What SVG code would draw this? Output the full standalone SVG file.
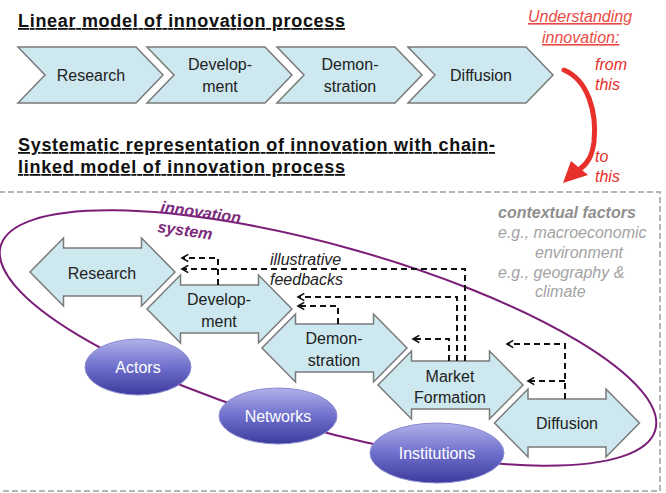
<svg xmlns="http://www.w3.org/2000/svg" width="666" height="493" viewBox="0 0 666 493">
<defs>
<style>
.title{font-family:"Liberation Sans",Arial,sans-serif;font-weight:bold;font-size:18px;fill:#111;text-decoration:underline}
.step{fill:#cde8ef;stroke:#7a7a7a;stroke-width:1.5}
.lbl{font-family:"Liberation Sans",Arial,sans-serif;font-size:16px;fill:#222;text-anchor:middle}
.red{font-family:"Liberation Sans",Arial,sans-serif;font-style:italic;font-size:16px;fill:#e8302a}
.ctx{font-family:"Liberation Sans",Arial,sans-serif;font-style:italic;font-size:16px;fill:#a3a3a3}
.fb{fill:none;stroke:#111;stroke-width:2;stroke-dasharray:6,4;marker-end:url(#oh)}
.oval{fill:url(#og);stroke:#8a8ad0;stroke-width:1}
.ovt{font-family:"Liberation Sans",Arial,sans-serif;font-size:16px;fill:#fff;text-anchor:middle}
.sys{font-family:"Liberation Sans",Arial,sans-serif;font-style:italic;font-weight:bold;font-size:16px;fill:#7b2a7b}
</style>
<linearGradient id="og" x1="0" y1="0" x2="0" y2="1">
<stop offset="0" stop-color="#b0b1ea"/>
<stop offset="0.5" stop-color="#6f70cc"/>
<stop offset="1" stop-color="#3a3b9c"/>
</linearGradient>
<marker id="oh" viewBox="0 0 10 10" refX="8" refY="5" markerWidth="9" markerHeight="9" markerUnits="userSpaceOnUse" orient="auto">
<path d="M1,1 L8,5 L1,9" fill="none" stroke="#111" stroke-width="1.8"/>
</marker>
</defs>
<rect width="666" height="493" fill="#fff"/>

<!-- titles -->
<text class="title" x="18" y="27" textLength="327" lengthAdjust="spacing">Linear model of innovation process</text>
<text class="title" x="18" y="151" textLength="477" lengthAdjust="spacing">Systematic representation of innovation with chain-</text>
<text class="title" x="18" y="173" textLength="327" lengthAdjust="spacing">linked model of innovation process</text>

<!-- linear model chevrons -->
<g id="lin-research"><path class="step" d="M18,47 H136 L163,75 L136,103 H18 L45,75 Z"/><text class="lbl" x="91" y="81">Research</text></g>
<g id="lin-development"><path class="step" d="M147,47 H265 L292,75 L265,103 H147 L174,75 Z"/><text class="lbl" x="220" y="70">Develop-</text><text class="lbl" x="220" y="92">ment</text></g>
<g id="lin-demonstration"><path class="step" d="M277,47 H395 L422,75 L395,103 H277 L304,75 Z"/><text class="lbl" x="350" y="70">Demon-</text><text class="lbl" x="350" y="92">stration</text></g>
<g id="lin-diffusion"><path class="step" d="M408,47 H526 L553,75 L526,103 H408 L435,75 Z"/><text class="lbl" x="481" y="81">Diffusion</text></g>

<!-- red annotation -->
<g id="understanding">
<text class="red" x="528" y="22" fill="#ec4a45" style="text-decoration:underline;fill:#ec4a45">Understanding</text>
<text class="red" x="542" y="43" style="text-decoration:underline;fill:#ec4a45">innovation:</text>
<text class="red" x="595" y="70">from</text>
<text class="red" x="595" y="90">this</text>
<text class="red" x="595" y="162">to</text>
<text class="red" x="595" y="182">this</text>
<path d="M564,70 C588,80 597,112 594,142 C592,156 588,163 580,169" fill="none" stroke="#e8302a" stroke-width="5" stroke-linecap="round"/>
<polygon points="563,183 571,161 588,175" fill="#e8302a"/>
</g>

<!-- context border -->
<rect x="-1" y="192" width="661" height="299" fill="none" stroke="#b5b5b5" stroke-width="2" stroke-dasharray="6,3"/>

<!-- innovation system ellipse -->
<g id="innovation-system">
<ellipse cx="328" cy="338" rx="340" ry="92" transform="rotate(15.7 328 338)" fill="none" stroke="#7a1e78" stroke-width="2"/>
<text class="sys" x="160" y="212" transform="rotate(8 160 212)">innovation</text>
<text class="sys" x="157" y="232" transform="rotate(8 157 232)">system</text>
</g>

<!-- contextual factors -->
<g id="contextual-factors">
<text class="ctx" x="498" y="218" style="font-weight:bold;fill:#8f8f8f">contextual factors</text>
<text class="ctx" x="498" y="238">e.g., macroeconomic</text>
<text class="ctx" x="535" y="258">environment</text>
<text class="ctx" x="498" y="278">e.g., geography &amp;</text>
<text class="ctx" x="535" y="297">climate</text>
</g>

<!-- chain-linked arrows -->
<g id="research"><path class="step" d="M30,272 L63.5,238 V248 H141.5 V238 L175,272 L141.5,306 V296 H63.5 V306 Z"/><text class="lbl" x="102" y="279">Research</text></g>
<g id="development"><path class="step" d="M147,309 L180.5,275 V285 H258.5 V275 L292,309 L258.5,343 V333 H180.5 V343 Z"/><text class="lbl" x="219" y="305">Develop-</text><text class="lbl" x="219" y="327">ment</text></g>
<g id="demonstration"><path class="step" d="M262,348 L295.5,314 V324 H373.5 V314 L407,348 L373.5,382 V372 H295.5 V382 Z"/><text class="lbl" x="334" y="344">Demon-</text><text class="lbl" x="334" y="366">stration</text></g>
<g id="market-formation"><path class="step" d="M378,385 L411.5,351 V361 H489.5 V351 L523,385 L489.5,419 V409 H411.5 V419 Z"/><text class="lbl" x="450" y="382">Market</text><text class="lbl" x="450" y="403">Formation</text></g>
<g id="diffusion"><path class="step" d="M494.5,423 L528,389 V399 H606 V389 L639.5,423 L606,457 V447 H528 V457 Z"/><text class="lbl" x="567" y="429">Diffusion</text></g>

<!-- feedbacks -->
<g id="feedbacks">
<path class="fb" d="M218,285 V258 H182"/>
<path class="fb" d="M465,361 V269 H182"/>
<path class="fb" d="M338,324 V306 H298"/>
<path class="fb" d="M457,361 V297 H298"/>
<path class="fb" d="M449,361 V339 H413"/>
<path class="fb" d="M565,399 V344 H507"/>
<path class="fb" d="M565,381 H528"/>
</g>
<text class="ctx" x="270" y="265" style="fill:#222">illustrative</text>
<text class="ctx" x="270" y="285" style="fill:#222">feedbacks</text>

<!-- actors / networks / institutions -->
<g id="actors"><ellipse class="oval" cx="138" cy="367" rx="53" ry="28"/><text class="ovt" x="138" y="373">Actors</text></g>
<g id="networks"><ellipse class="oval" cx="278" cy="416" rx="59" ry="28"/><text class="ovt" x="278" y="422">Networks</text></g>
<g id="institutions"><ellipse class="oval" cx="437" cy="453" rx="67" ry="30"/><text class="ovt" x="437" y="459">Institutions</text></g>
</svg>
